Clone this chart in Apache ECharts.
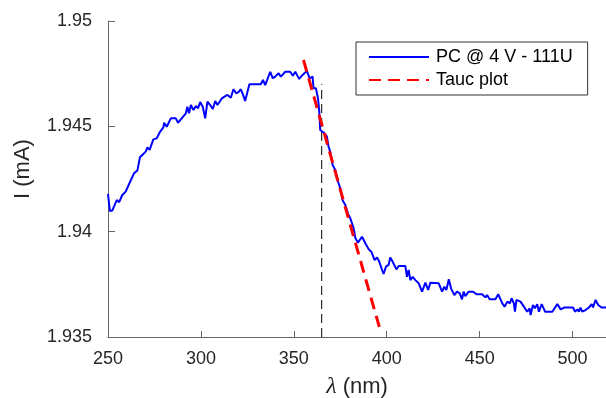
<!DOCTYPE html>
<html>
<head>
<meta charset="utf-8">
<script src="https://cdn.jsdelivr.net/npm/echarts@6/dist/echarts.min.js"></script>
<style>html,body{margin:0;padding:0;background:#fff}#c{width:606px;height:398px}</style>
</head>
<body>
<div id="c"></div>
<script>
// Measured photocurrent (blue)
const lambda = [250.0,251.0,252.3,254.7,256.0,257.7,259.5,261.9,264.0,265.8,267.2,269.0,270.3,271.2,272.4,274.4,276.2,278.0,279.8,280.2,281.6,283.8,286.5,287.7,289.2,291.9,292.7,293.6,294.6,296.0,297.3,298.5,299.6,
301.0,302.3,303.5,305.0,306.4,307.7,308.9,311.3,312.5,314.3,316.1,317.5,319.0,320.2,321.5,322.6,323.8,326.1,332.2,333.4,334.6,337.3,338.7,340.0,341.8,343.0,345.4,348.0,349.5,350.8,
352.2,352.9,354.7,357.0,358.5,360.1,360.6,361.9,363.0,363.7,364.2,365.1,366.5,367.8,368.7,369.6,370.9,372.3,373.8,375.0,376.2,377.7,379.1,380.4,382.2,383.1,384.5,
386.7,388.5,390.3,391.7,393.5,394.8,396.0,397.5,398.3,399.6,401.0,401.9,403.2,404.2,405.2,406.4,410.0,410.9,411.8,412.7,414.0,415.4,417.2,419.0,420.8,422.3,
423.5,428.0,429.8,431.0,432.1,433.4,434.6,436.4,437.8,439.3,440.5,441.4,442.3,444.1,446.5,448.3,451.3,453.1,454.0,455.4,458.5,460.0,460.9,462.2,463.4,464.9,466.3,467.2,468.4,469.0,469.8,
470.7,472.0,473.8,475.6,476.9,477.4,478.7,479.7,481.0,481.9,483.4,485.2,489.1,491.8,493.6,495.4,500.3,501.3,502.6,503.4,504.3,505.2,507.0,508.8,510.3,511.0,512.4,513.8,515.6,518.0];
const current = [1.94179,1.94098,1.94100,1.94150,1.94140,1.94174,1.94190,1.94237,1.94277,1.94290,1.94353,1.94369,1.94380,1.94400,1.94388,1.94438,1.94443,1.94474,1.94495,1.94517,1.94498,1.94538,1.94538,1.94517,1.94533,1.94562,1.94593,1.94562,1.94601,1.94577,1.94597,1.94586,1.94615,
1.94593,1.94538,1.94617,1.94601,1.94582,1.94620,1.94601,1.94633,1.94640,1.94649,1.94636,1.94676,1.94657,1.94662,1.94676,1.94652,1.94620,1.94700,1.94700,1.94720,1.94696,1.94759,1.94728,1.94736,1.94752,1.94736,1.94759,1.94759,1.94740,1.94759,
1.94736,1.94725,1.94744,1.94763,1.94728,1.94736,1.94681,1.94681,1.94633,1.94570,1.94483,1.94478,1.94467,1.94451,1.94403,1.94380,1.94316,1.94293,1.94237,1.94206,1.94150,1.94127,1.94087,1.94063,1.94016,1.93970,1.93948,
1.93976,1.93945,1.93916,1.93905,1.93865,1.93878,1.93857,1.93818,1.93799,1.93834,1.93842,1.93878,1.93857,1.93857,1.93821,1.93837,1.93837,1.93786,1.93818,1.93770,1.93786,1.93770,1.93755,1.93715,1.93758,1.93723,
1.93758,1.93755,1.93715,1.93739,1.93723,1.93774,1.93731,1.93699,1.93715,1.93707,1.93679,1.93715,1.93694,1.93715,1.93715,1.93703,1.93703,1.93688,1.93699,1.93679,1.93679,1.93703,1.93703,1.93660,1.93644,1.93668,1.93660,1.93684,1.93660,1.93620,1.93676,
1.93676,1.93668,1.93644,1.93620,1.93636,1.93604,1.93652,1.93636,1.93656,1.93620,1.93656,1.93620,1.93620,1.93656,1.93631,1.93640,1.93640,1.93620,1.93631,1.93620,1.93640,1.93620,1.93628,1.93640,1.93656,1.93640,1.93676,1.93652,1.93640,1.93640];

// Tauc plot fit (red dashed)
const taucLambda = [355.2, 396.0];
const taucCurrent = [1.94815, 1.93548];

// Band-edge marker (black dashed)
const edgeLambda = [365, 365];
const edgeCurrent = [1.935, 1.9470];

// Axis ticks
const xTicks = [250, 300, 350, 400, 450, 500];
const yTicks = [1.935, 1.94, 1.945, 1.95];
const yTickLabels = ['1.935', '1.94', '1.945', '1.95'];

const seriesNames = ['PC @ 4 V - 111U', 'Tauc plot'];

const zip = (a, b) => a.map((v, i) => [v, b[i]]);
const FONT = 'Liberation Sans';
const TXT = '#262626';
const AX = '#666';

const chart = echarts.init(document.getElementById('c'), null, {renderer: 'canvas'});
chart.setOption({
  animation: false,
  backgroundColor: '#fff',
  grid: {left: 108, right: 0, top: 21, bottom: 61, containLabel: false, outerBoundsMode: 'none'},
  legend: {
    data: seriesNames,
    orient: 'vertical',
    left: 356, top: 42,
    padding: [6, 15, 6, 12],
    itemGap: 5,
    itemWidth: 60, itemHeight: 14,
    itemStyle: {opacity: 0},
    backgroundColor: '#fff',
    borderColor: '#333', borderWidth: 1,
    textStyle: {fontFamily: FONT, fontSize: 18, color: '#000', padding: [0, 0, 0, 2]}
  },
  xAxis: {
    type: 'value', min: 250, max: 518, interval: 50,
    name: '{a|λ} (nm)', nameLocation: 'middle', nameGap: 38,
    nameTextStyle: {fontFamily: FONT, fontSize: 22, color: TXT,
      rich: {a: {fontFamily: 'Liberation Serif', fontStyle: 'italic', fontSize: 24, color: TXT}}},
    axisLine: {show: true, lineStyle: {color: AX, width: 1}},
    axisTick: {show: true, inside: true, length: 6, lineStyle: {color: AX}, customValues: xTicks},
    axisLabel: {fontFamily: FONT, fontSize: 18, color: TXT, margin: 13, customValues: xTicks},
    splitLine: {show: false}
  },
  yAxis: {
    type: 'value', min: 1.935, max: 1.95, interval: 0.005,
    name: 'I (mA)', nameLocation: 'middle', nameGap: 74,
    nameTextStyle: {fontFamily: FONT, fontSize: 22, color: TXT, padding: [0, 0, 0, 20]},
    axisLine: {show: true, lineStyle: {color: AX, width: 1}},
    axisTick: {show: true, inside: true, length: 7, lineStyle: {color: AX}, customValues: yTicks},
    axisLabel: {fontFamily: FONT, fontSize: 18, color: TXT, margin: 16, customValues: yTicks,
      formatter: v => { const i = yTicks.findIndex(t => Math.abs(t - v) < 1e-9); return i >= 0 ? yTickLabels[i] : ''; }},
    splitLine: {show: false}
  },
  series: [
    {
      name: seriesNames[0], type: 'line', data: zip(lambda, current),
      symbol: 'none', lineStyle: {color: '#0000ff', width: 2}, itemStyle: {color: '#0000ff'}, z: 3
    },
    {
      name: seriesNames[1], type: 'line', data: zip(taucLambda, taucCurrent),
      symbol: 'none', lineStyle: {color: '#ff0000', width: 3, type: [12, 7]}, itemStyle: {color: '#ff0000'}, z: 4
    },
    {
      name: 'edge', type: 'line', data: zip(edgeLambda, edgeCurrent),
      symbol: 'none', lineStyle: {color: '#000', width: 1, type: [9, 5]}, z: 2
    }
  ]
});
</script>
</body>
</html>
